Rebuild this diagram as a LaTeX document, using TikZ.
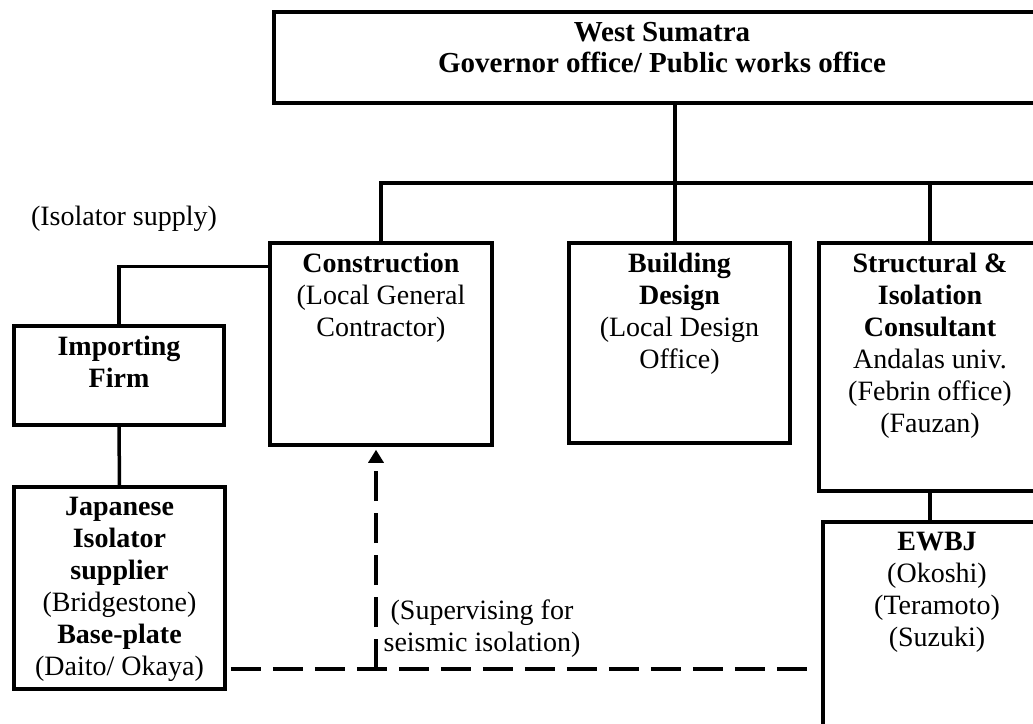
\documentclass[tikz,border=0pt]{standalone}
\usepackage{fontspec}
\setmainfont{Liberation Serif}
\usetikzlibrary{arrows.meta,positioning}

\tikzset{
    orgbox/.style={draw, line width=3.5pt, inner sep=0pt},
    boxtext/.style={align=center, inner sep=0pt},
    link/.style={line width=3.5pt},
    dashlink/.style={line width=3.5pt, dash pattern=on 30pt off 12pt}
}

\begin{document}
\begin{tikzpicture}[x=1pt, y=-1pt, font=\fontsize{28}{32}\selectfont]
    \path[use as bounding box] (0,0) rectangle (1033,723);
    \clip (0,0) rectangle (1033,723);

    \node [orgbox, minimum width=776pt, minimum height=91pt] (gov) at (662,57.5) {};
    \node [boxtext, font=\fontsize{29}{31}\selectfont, below=12pt of gov.north] (govtext)%
        {\textbf{West Sumatra}\\\textbf{Governor office/ Public works office}};

    \node [orgbox, minimum width=222pt, minimum height=202pt] (con) at (381,344) {};
    \node [boxtext, below=12pt of con.north] (context)%
        {\textbf{Construction}\\(Local General\\Contractor)};

    \node [orgbox, minimum width=221pt, minimum height=200pt] (bld) at (679.5,343) {};
    \node [boxtext, below=12pt of bld.north] (bldtext)%
        {\textbf{Building}\\\textbf{Design}\\(Local Design\\Office)};

    \node [orgbox, minimum width=222pt, minimum height=248pt] (str) at (930,367) {};
    \node [boxtext, below=12pt of str.north] (strtext)%
        {\textbf{Structural \&}\\\textbf{Isolation}\\\textbf{Consultant}\\Andalas univ.\\(Febrin office)\\(Fauzan)};

    \node [orgbox, minimum width=210pt, minimum height=99pt] (imp) at (119,375.5) {};
    \node [boxtext, below=12pt of imp.north] (imptext)%
        {\textbf{Importing}\\\textbf{Firm}};

    \node [orgbox, minimum width=211pt, minimum height=202pt] (jap) at (119.5,588) {};
    \node [boxtext, below=12pt of jap.north] (japtext)%
        {\textbf{Japanese}\\\textbf{Isolator}\\\textbf{supplier}\\(Bridgestone)\\\textbf{Base-plate}\\(Daito/ Okaya)};

    \node [orgbox, minimum width=228pt, minimum height=238pt] (ewbj) at (937,641) {};
    \node [boxtext, below=12pt of ewbj.north] (ewbjtext)%
        {\textbf{EWBJ}\\(Okoshi)\\(Teramoto)\\(Suzuki)};

    \node [anchor=base] (supply) at (124,225) {(Isolator supply)};
    \node [boxtext, anchor=north] (superv) at (482,600)%
        {(Supervising for\\seismic isolation)};

    \coordinate (bus) at (1040,183);
    \coordinate (govdrop) at (675,183);
    \coordinate (sup) at (376,669);

    \draw [link] (gov.south -| govdrop) -- (govdrop |- bld.north);
    \draw [link] (con.north) |- (bus);
    \draw [link] (str.north |- bus) -- (str.north);
    \draw [link] ([yshift=-25pt]con.north west) -| (imp.north);
    \draw [link] (imp.south) -- (jap.north);
    \draw [link] (str.south) -- (str.south |- ewbj.north);

    \draw [dashlink] ([xshift=4pt]jap.east |- sup) -- ([xshift=-6pt]ewbj.west |- sup);
    \draw [dashlink, -{Triangle[width=15pt,length=13pt]}] (sup) -- ([yshift=-3pt]con.south -| sup);
\end{tikzpicture}
\end{document}
